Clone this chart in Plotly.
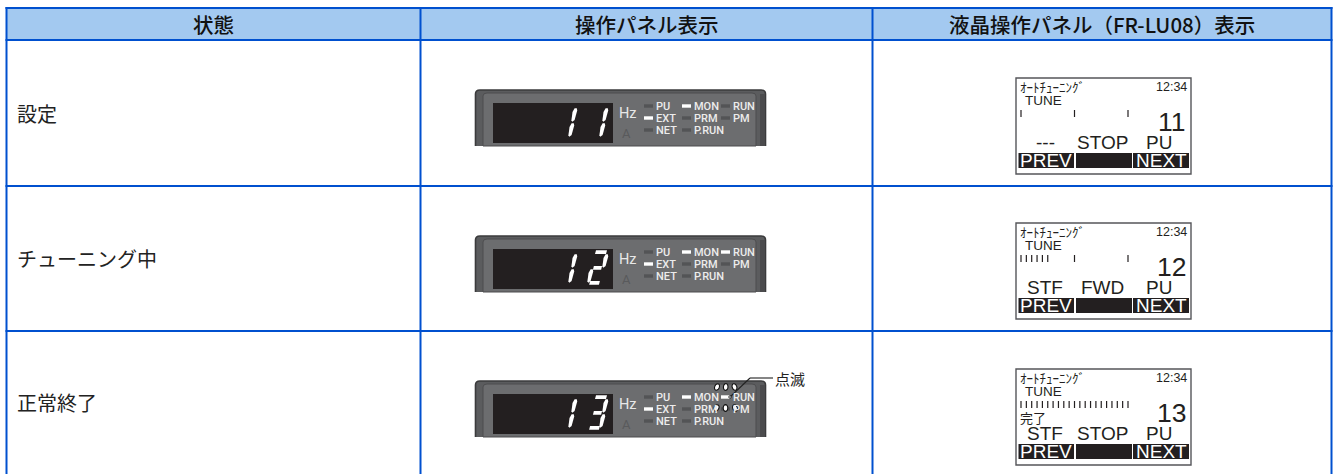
import math
import plotly.graph_objects as go

# ---- content ----
headers = ["状態", "操作パネル表示", "液晶操作パネル（FR-LU08）表示"]
states = ["設定", "チューニング中", "正常終了"]
display_digits = ["11", "12", "13"]
led_names = ["PU", "MON", "RUN", "EXT", "PRM", "PM", "NET", "P.RUN"]
lit_leds = [["MON", "EXT"], ["MON", "RUN", "EXT"], ["MON", "RUN", "EXT"]]
blink_note = "点滅"
lcd_title = "ｵｰﾄﾁｭｰﾆﾝｸﾞ"
lcd_clock = "12:34"
lcd_mode = "TUNE"
lcd_numbers = ["11", "12", "13"]
lcd_status_left = ["---", "STF", "STF"]
lcd_status_mid = ["STOP", "FWD", "STOP"]
lcd_status_right = ["PU", "PU", "PU"]
lcd_progress_ticks = [1, 6, 21]
lcd_done_text = ["", "", "完了"]
lcd_softkeys = ["PREV", "NEXT"]

# ---- layout constants ----
W, H = 1336, 474
BLUE = "#0050cf"
HEAD = "#a3c9f0"
INK = "#231f20"
col_x = [6.5, 420.5, 872.5, 1331.5]
row_y = [8, 40, 186, 331, 474]
panel_top = [89, 235, 380]
lcd_top = [78, 223, 369]
JP = "Noto Sans CJK JP"
AR = "Liberation Sans"
LED = "Roboto"
SEG = dict(
    a=(8.5, 17.3, "h", 6), g=(5, 33, "h", 4.6), d=(2, 48, "h", 5.4),
    b=(12.5, 26, "v", 0), c=(9.5, 41, "v", 0), f=(0.5, 26, "v", 0), e=(-2.5, 41, "v", 0),
)
DIGITS = {"1": "bc", "2": "abged", "3": "abgcd"}
digit_x = [561.5, 592.5]
led_col_x = [644, 682, 721]
led_text_x = [656, 694, 732.5]
led_row_y = [17, 29, 41]

shapes, notes = [], []


def rect(x0, y0, x1, y1, fill, line=None, width=0):
    shapes.append(dict(type="rect", x0=x0, y0=y0, x1=x1, y1=y1, fillcolor=fill,
                       line=dict(color=line or fill, width=width)))


def path(d, fill="rgba(0,0,0,0)", line=None, width=0):
    shapes.append(dict(type="path", path=d, fillcolor=fill,
                       line=dict(color=line or fill, width=width)))


def seg_line(x0, y0, x1, y1, color, width):
    shapes.append(dict(type="line", x0=x0, y0=y0, x1=x1, y1=y1, line=dict(color=color, width=width)))


def poly(points):
    return "M" + " L".join(f"{x:.2f},{y:.2f}" for x, y in points) + " Z"


def text(x, y, s, size, font=JP, color=INK, anchor="left", weight=None):
    f = dict(family=font, size=size, color=color)
    if weight:
        f["weight"] = weight
    notes.append(dict(x=x, y=y, text=s, xref="x", yref="y", showarrow=False, xanchor=anchor,
                      yanchor="middle", font=f, borderpad=0, borderwidth=0))


def oval(cx, cy, rx, ry, angle, lw=1):
    a = math.radians(angle)
    pts = []
    for k in range(16):
        t = 2 * math.pi * k / 16
        px, py = rx * math.cos(t), ry * math.sin(t)
        pts.append((cx + px * math.cos(a) - py * math.sin(a), cy + px * math.sin(a) + py * math.cos(a)))
    path(poly(pts), fill="white", line="#111111", width=lw)


def draw_segment(x, top, spec):
    dx, dy, kind, half = spec
    cx, cy = x + dx, top + dy
    if kind == "v":
        pts = [(cx + 0.6, cy - 6.8), (cx + 2.8, cy - 6.8), (cx + 3.2, cy - 4.5), (cx + 0.6, cy + 5),
               (cx - 1.6, cy + 6.8), (cx - 2.6, cy + 5.5), (cx - 1.5, cy - 3)]
    else:
        pts = [(cx - half + 1, cy - 2), (cx + half, cy - 2), (cx + half - 1, cy + 1.8), (cx - half, cy + 1.8)]
    path(poly(pts), fill="white")


def draw_panel(i):
    t = panel_top[i]
    b = t + 57
    path(f"M475.5,{b} L475.5,{t+5} Q475.5,{t+1} 480,{t+1} L761,{t+1} Q765.5,{t+1} 765.5,{t+5} L765.5,{b}",
         fill="#5b5c5e", line="#3b3b3c", width=1.6)
    path(f"M483,{b} L483,{t+7} Q483,{t+4} 487,{t+4} L752,{t+4} Q756,{t+4} 756,{t+7} L756,{b} Z",
         fill="#6c6d6f", line="#4d4d4f", width=1)
    rect(760, t + 5, 765, b, "#4b4b4d")
    rect(493, t + 14, 613, t + 54, INK)
    for x, ch in zip(digit_x, display_digits[i]):
        for s in DIGITS[ch]:
            draw_segment(x, t, SEG[s])
    text(619, t + 24.5, "Hz", 14.5, LED, "#e8e8e8")
    text(622, t + 44.5, "A", 13, LED, "#595a5c")
    for k, name in enumerate(led_names):
        r, c = k // 3, k % 3
        y = t + led_row_y[r]
        on = name in lit_leds[i]
        rect(led_col_x[c], y - 1.7, led_col_x[c] + 9, y + 1.7, "white" if on else "#535456")
        text(led_text_x[c], y + 0.3, name, 11, LED, "#ececec", weight=500)


def draw_lcd(i):
    t = lcd_top[i]
    rect(1016, t, 1191, t + 96, "white", line="#55565a", width=1.4)
    text(1020, t + 8, lcd_title, 13, JP, INK)
    text(1186.5, t + 9, lcd_clock, 12.5, AR, INK, "right")
    text(1025, t + 22, lcd_mode, 13.5, AR, INK)
    fine = 5.35
    scale = [0, 10, 20]
    for k in range(21):
        if k < lcd_progress_ticks[i] or k in scale:
            x = 1021 + fine * k
            seg_line(x, t + 32, x, t + 39, INK, 1.2)
    text(1186, t + 44, lcd_numbers[i], 26.5, AR, INK, "right")
    if lcd_done_text[i]:
        text(1020, t + 48.5, lcd_done_text[i], 13, JP, INK)
    text(1045, t + 64, lcd_status_left[i], 19, AR, INK, "center")
    text(1102, t + 64, lcd_status_mid[i], 19, AR, INK, "center")
    text(1159, t + 64, lcd_status_right[i], 19, AR, INK, "center")
    bar = [(1018.5, 1074), (1076, 1132), (1133, 1189)]
    for x0, x1 in bar:
        rect(x0, t + 75, x1, t + 90, INK)
    text((bar[0][0] + bar[0][1]) / 2, t + 82.5, lcd_softkeys[0], 19, AR, "white", "center")
    text((bar[2][0] + bar[2][1]) / 2, t + 82.5, lcd_softkeys[1], 19, AR, "white", "center")


# header band
rect(col_x[0], row_y[0], col_x[3], row_y[1], HEAD)
for j, h in enumerate(headers):
    text((col_x[j] + col_x[j + 1]) / 2, (row_y[0] + row_y[1]) / 2, h, 20.5, JP, "#111111", "center", weight=500)

for i, s in enumerate(states):
    text(17, (row_y[i + 1] + row_y[i + 2]) / 2, s, 20, JP, "#222222")
    draw_panel(i)
    draw_lcd(i)

# table rules
for x in col_x:
    seg_line(x, row_y[0] - 1, x, row_y[-1], BLUE, 2)
for y in row_y[:-1]:
    seg_line(col_x[0] - 1, y, col_x[3] + 1, y, BLUE, 2)

# blink callout on the last row (drawn after the panels, over the LED labels)
t = panel_top[2]
for x, ang in ((717, 25), (725.7, 5), (734.5, -20)):
    oval(x, t + 7, 2.3, 3.4, ang, 1.1)
for x, ang in ((716.5, 30), (725.5, 0), (735, -20)):
    oval(x, t + 28, 2.3, 3.4, ang, 1.1)
seg_line(730, t + 17, 750, t - 2, "#222222", 1.1)
seg_line(750, t - 2, 773, t - 2, "#222222", 1.1)
oval(730, t + 17, 1.2, 1.2, 0)
text(775, t - 2, blink_note, 15, JP, "#222222")

fig = go.Figure(go.Scatter(x=[], y=[]))
fig.update_layout(
    width=W, height=H, margin=dict(l=0, r=0, t=0, b=0), showlegend=False,
    paper_bgcolor="white", plot_bgcolor="white", shapes=shapes, annotations=notes,
    xaxis=dict(range=[0, W], visible=False, fixedrange=True),
    yaxis=dict(range=[H, 0], visible=False, fixedrange=True),
)
fig.write_html("out.html", config=dict(displayModeBar=False),
               post_script="document.body.style.margin='0';document.body.style.overflow='hidden';")
